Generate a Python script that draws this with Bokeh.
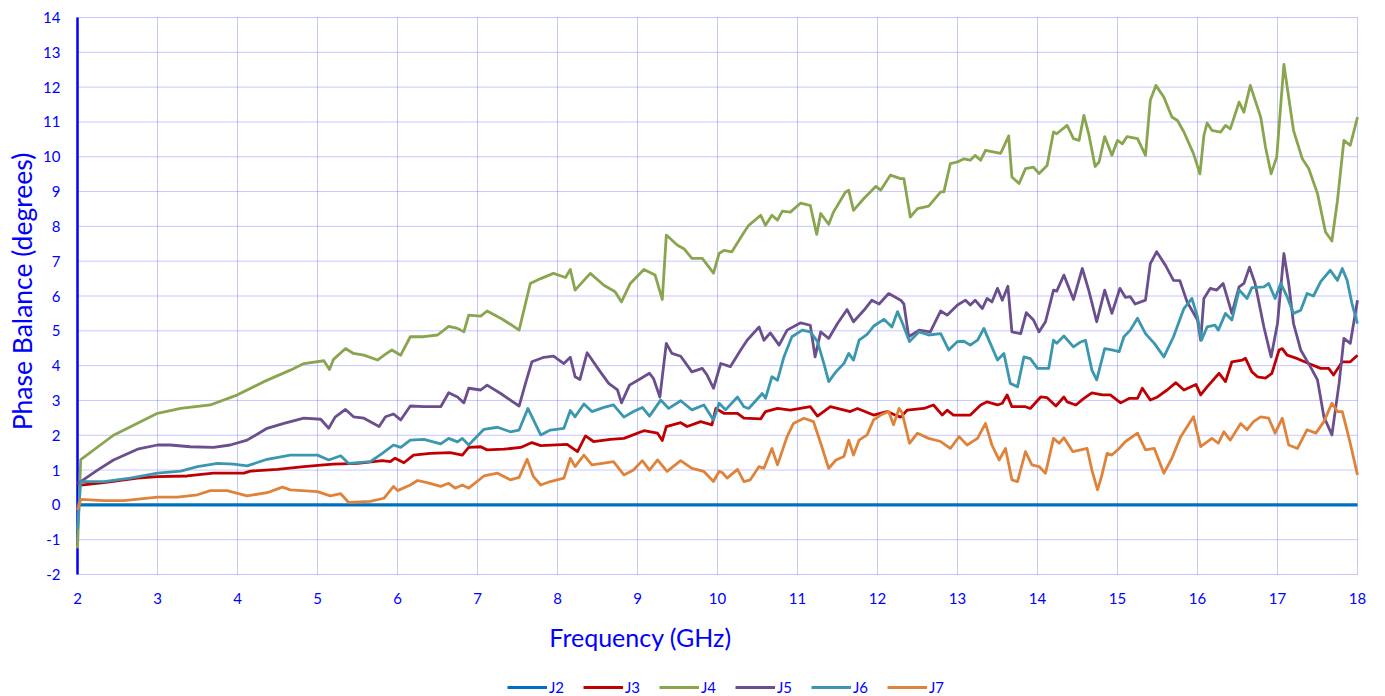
import math
from bokeh.plotting import figure
from bokeh.models import Legend, LegendItem, Label, ColumnDataSource
from bokeh.core.properties import value
from bokeh.embed import file_html
from bokeh.resources import INLINE

# ---------------- data ----------------
J2 = [(2.0, 0.0), (6.0, 0.0), (10.0, 0.0), (14.0, 0.0), (18.0, 0.0)]

J3 = [(2.0,0.55),(2.04,0.57),(2.33,0.64),(2.75,0.77),(3.0,0.81),(3.37,0.83),(3.7,0.91),(4.08,0.91),(4.16,0.97),(4.5,1.02),(4.83,1.1),(5.08,1.15),(5.2,1.17),(5.5,1.19),(5.81,1.27),(5.91,1.24),(5.97,1.34),(6.08,1.21),(6.2,1.43),(6.41,1.48),(6.66,1.5),(6.81,1.43),(6.89,1.65),(7.04,1.67),(7.12,1.58),(7.33,1.6),(7.54,1.65),(7.68,1.79),(7.79,1.7),(8.12,1.74),(8.25,1.53),(8.35,1.98),(8.45,1.82),(8.66,1.88),(8.83,1.91),(9.08,2.13),(9.25,2.06),(9.31,1.85),(9.36,2.25),(9.54,2.36),(9.62,2.25),(9.79,2.39),(9.93,2.3),(9.98,2.77),(10.08,2.63),(10.25,2.63),(10.33,2.49),(10.54,2.47),(10.6,2.68),(10.75,2.77),(10.91,2.72),(11.16,2.82),(11.25,2.55),(11.41,2.82),(11.66,2.68),(11.75,2.77),(11.95,2.58),(12.12,2.68),(12.22,2.58),(12.29,2.52),(12.37,2.72),(12.58,2.77),(12.7,2.87),(12.81,2.58),(12.87,2.72),(12.95,2.58),(13.16,2.58),(13.29,2.87),(13.37,2.96),(13.5,2.87),(13.56,2.92),(13.62,3.16),(13.68,2.82),(13.85,2.82),(13.91,2.77),(14.04,3.1),(14.12,3.08),(14.23,2.84),(14.33,3.1),(14.37,2.96),(14.48,2.87),(14.58,3.06),(14.68,3.22),(14.81,3.16),(14.91,3.16),(15.04,2.93),(15.15,3.06),(15.25,3.06),(15.31,3.35),(15.41,3.01),(15.5,3.1),(15.62,3.3),(15.73,3.51),(15.83,3.3),(15.98,3.46),(16.04,3.16),(16.12,3.39),(16.27,3.78),(16.35,3.54),(16.43,4.11),(16.56,4.16),(16.6,4.21),(16.68,3.82),(16.75,3.68),(16.85,3.64),(16.93,3.78),(17.02,4.45),(17.06,4.49),(17.12,4.3),(17.25,4.2),(17.39,4.06),(17.54,3.92),(17.64,3.92),(17.7,3.73),(17.81,4.11),(17.91,4.11),(18.0,4.3)]

J4 = [(2.0,-1.25),(2.04,1.3),(2.45,2.0),(3.0,2.63),(3.29,2.77),(3.66,2.87),(4.0,3.16),(4.33,3.54),(4.66,3.87),(4.83,4.06),(5.08,4.14),(5.15,3.89),(5.2,4.18),(5.35,4.49),(5.45,4.35),(5.58,4.3),(5.75,4.16),(5.85,4.33),(5.93,4.45),(6.04,4.3),(6.16,4.83),(6.33,4.83),(6.5,4.88),(6.64,5.13),(6.75,5.07),(6.83,4.97),(6.89,5.45),(7.04,5.42),(7.12,5.57),(7.29,5.36),(7.41,5.19),(7.52,5.02),(7.66,6.36),(7.79,6.5),(7.95,6.65),(8.1,6.53),(8.16,6.76),(8.22,6.17),(8.41,6.65),(8.58,6.31),(8.72,6.12),(8.8,5.83),(8.91,6.36),(9.08,6.76),(9.22,6.6),(9.31,5.9),(9.36,7.75),(9.5,7.46),(9.58,7.36),(9.68,7.08),(9.81,7.08),(9.95,6.66),(10.02,7.22),(10.08,7.31),(10.18,7.27),(10.31,7.75),(10.39,8.03),(10.54,8.32),(10.6,8.03),(10.68,8.32),(10.75,8.18),(10.81,8.44),(10.91,8.41),(11.04,8.67),(11.16,8.6),(11.24,7.77),(11.29,8.37),(11.39,8.06),(11.45,8.41),(11.6,8.99),(11.64,9.04),(11.7,8.46),(11.83,8.8),(11.98,9.15),(12.04,9.04),(12.16,9.47),(12.29,9.37),(12.33,9.37),(12.41,8.27),(12.5,8.51),(12.64,8.58),(12.79,8.99),(12.83,8.99),(12.91,9.8),(13.0,9.85),(13.08,9.94),(13.16,9.9),(13.22,10.04),(13.29,9.9),(13.35,10.18),(13.54,10.1),(13.64,10.6),(13.68,9.42),(13.77,9.23),(13.85,9.66),(13.95,9.7),(14.02,9.52),(14.12,9.75),(14.2,10.71),(14.24,10.66),(14.37,10.9),(14.45,10.52),(14.52,10.47),(14.58,11.19),(14.64,10.66),(14.72,9.72),(14.77,9.85),(14.84,10.58),(14.93,10.04),(15.0,10.47),(15.06,10.37),(15.12,10.58),(15.25,10.52),(15.35,10.04),(15.41,11.62),(15.48,12.05),(15.58,11.71),(15.68,11.14),(15.75,11.04),(15.83,10.71),(15.95,10.09),(16.03,9.51),(16.08,10.61),(16.12,10.97),(16.18,10.76),(16.29,10.71),(16.35,10.9),(16.41,10.8),(16.52,11.57),(16.58,11.28),(16.66,12.05),(16.79,11.14),(16.85,10.28),(16.92,9.51),(16.99,9.99),(17.08,12.65),(17.2,10.76),(17.31,9.94),(17.39,9.66),(17.5,8.94),(17.6,7.84),(17.68,7.58),(17.75,8.75),(17.83,10.47),(17.91,10.33),(18.0,11.14)]

J5 = [(2.0,0.62),(2.04,0.67),(2.25,1.0),(2.45,1.29),(2.75,1.6),(3.0,1.72),(3.16,1.72),(3.41,1.67),(3.7,1.65),(3.91,1.72),(4.12,1.86),(4.37,2.2),(4.58,2.34),(4.83,2.49),(5.04,2.46),(5.14,2.2),(5.22,2.52),(5.35,2.74),(5.45,2.53),(5.58,2.49),(5.77,2.25),(5.85,2.53),(5.95,2.61),(6.04,2.44),(6.16,2.84),(6.33,2.82),(6.54,2.82),(6.64,3.22),(6.75,3.1),(6.83,2.93),(6.89,3.35),(7.04,3.3),(7.12,3.44),(7.29,3.2),(7.41,3.01),(7.52,2.84),(7.6,3.49),(7.68,4.11),(7.83,4.24),(7.95,4.27),(8.08,4.06),(8.16,4.24),(8.22,3.68),(8.28,3.6),(8.37,4.37),(8.52,3.87),(8.64,3.49),(8.75,3.3),(8.8,2.93),(8.9,3.44),(9.02,3.6),(9.15,3.78),(9.2,3.63),(9.28,3.1),(9.36,4.64),(9.43,4.35),(9.54,4.27),(9.68,3.82),(9.81,3.92),(9.87,3.73),(9.95,3.35),(10.04,4.06),(10.16,3.97),(10.29,4.45),(10.37,4.73),(10.52,5.11),(10.58,4.73),(10.66,4.94),(10.77,4.59),(10.87,5.02),(11.04,5.23),(11.16,5.16),(11.22,4.25),(11.29,4.97),(11.39,4.78),(11.5,5.21),(11.62,5.61),(11.7,5.26),(11.83,5.59),(11.93,5.88),(12.02,5.77),(12.14,6.07),(12.29,5.88),(12.33,5.77),(12.39,4.83),(12.52,5.02),(12.66,4.97),(12.79,5.57),(12.87,5.45),(13.0,5.74),(13.1,5.88),(13.16,5.74),(13.22,5.88),(13.31,5.64),(13.37,5.93),(13.43,5.83),(13.5,6.22),(13.56,5.88),(13.63,6.28),(13.68,4.97),(13.79,4.92),(13.86,5.52),(13.95,5.31),(14.02,4.97),(14.1,5.26),(14.2,6.17),(14.24,6.14),(14.33,6.6),(14.45,5.9),(14.56,6.79),(14.64,6.17),(14.74,5.26),(14.84,6.17),(14.93,5.5),(15.03,6.22),(15.1,5.96),(15.16,5.98),(15.22,5.77),(15.35,5.88),(15.41,6.93),(15.49,7.27),(15.6,6.88),(15.7,6.45),(15.78,6.44),(15.87,5.83),(16.0,5.31),(16.04,4.73),(16.08,5.93),(16.16,6.22),(16.24,6.17),(16.32,6.36),(16.43,5.5),(16.52,6.26),(16.58,6.36),(16.65,6.83),(16.72,6.36),(16.83,5.11),(16.92,4.25),(17.0,5.21),(17.08,7.22),(17.14,6.36),(17.2,5.21),(17.29,4.45),(17.41,3.97),(17.5,3.59),(17.58,2.53),(17.68,2.01),(17.77,3.49),(17.83,4.78),(17.91,4.64),(18.0,5.88)]

J6 = [(2.0,-0.7),(2.04,0.67),(2.33,0.67),(2.66,0.77),(3.0,0.91),(3.29,0.97),(3.5,1.1),(3.75,1.19),(3.95,1.17),(4.12,1.12),(4.37,1.31),(4.66,1.43),(5.0,1.43),(5.14,1.29),(5.29,1.41),(5.39,1.19),(5.66,1.24),(5.81,1.48),(5.95,1.72),(6.04,1.65),(6.16,1.86),(6.33,1.88),(6.54,1.75),(6.64,1.91),(6.75,1.81),(6.81,1.91),(6.89,1.72),(7.08,2.17),(7.25,2.23),(7.41,2.1),(7.52,2.15),(7.63,2.77),(7.79,2.01),(7.91,2.15),(8.08,2.2),(8.16,2.71),(8.22,2.53),(8.33,2.9),(8.43,2.68),(8.58,2.8),(8.7,2.87),(8.83,2.52),(8.95,2.68),(9.06,2.8),(9.15,2.55),(9.29,3.01),(9.39,2.77),(9.54,2.99),(9.68,2.73),(9.83,2.87),(9.95,2.44),(10.02,2.92),(10.1,2.73),(10.25,3.1),(10.33,2.82),(10.39,2.77),(10.56,3.2),(10.6,3.06),(10.68,3.68),(10.75,3.58),(10.83,4.25),(10.93,4.83),(11.06,5.02),(11.16,4.97),(11.25,4.69),(11.33,4.06),(11.39,3.54),(11.48,3.82),(11.58,4.06),(11.64,4.35),(11.7,4.16),(11.77,4.73),(11.87,4.9),(11.95,5.13),(12.08,5.33),(12.18,5.11),(12.25,5.55),(12.31,5.23),(12.4,4.69),(12.52,4.97),(12.64,4.88),(12.79,4.92),(12.89,4.45),(13.0,4.69),(13.08,4.7),(13.16,4.59),(13.25,4.73),(13.33,5.07),(13.41,4.64),(13.5,4.16),(13.58,4.35),(13.66,3.49),(13.75,3.39),(13.83,4.25),(13.91,4.2),(14.0,3.92),(14.14,3.92),(14.2,4.73),(14.24,4.64),(14.33,4.85),(14.45,4.54),(14.54,4.68),(14.6,4.73),(14.68,3.87),(14.74,3.59),(14.84,4.49),(14.93,4.45),(15.02,4.4),(15.08,4.83),(15.16,5.02),(15.25,5.36),(15.35,4.92),(15.46,4.64),(15.58,4.25),(15.7,4.83),(15.83,5.64),(15.93,5.93),(16.0,5.4),(16.05,4.73),(16.12,5.11),(16.22,5.16),(16.26,5.02),(16.35,5.5),(16.43,5.31),(16.52,6.17),(16.62,5.93),(16.68,6.24),(16.83,6.26),(16.89,6.36),(16.97,5.93),(17.04,6.36),(17.12,5.98),(17.2,5.5),(17.29,5.59),(17.37,6.07),(17.45,6.0),(17.54,6.41),(17.66,6.74),(17.75,6.45),(17.81,6.79),(17.87,6.45),(17.93,5.79),(18.0,5.21)]

J7 = [(2.0,-0.15),(2.04,0.16),(2.33,0.12),(2.58,0.12),(3.0,0.22),(3.25,0.22),(3.5,0.29),(3.66,0.41),(3.87,0.41),(4.12,0.26),(4.37,0.35),(4.56,0.51),(4.66,0.43),(5.0,0.38),(5.16,0.26),(5.29,0.32),(5.39,0.07),(5.66,0.1),(5.83,0.19),(5.95,0.53),(6.0,0.41),(6.16,0.57),(6.25,0.7),(6.37,0.64),(6.54,0.53),(6.64,0.62),(6.72,0.48),(6.81,0.57),(6.89,0.48),(7.08,0.83),(7.25,0.91),(7.41,0.72),(7.52,0.79),(7.62,1.31),(7.7,0.81),(7.79,0.57),(7.91,0.67),(8.08,0.77),(8.16,1.34),(8.22,1.1),(8.33,1.43),(8.43,1.15),(8.58,1.2),(8.7,1.24),(8.83,0.86),(8.95,1.0),(9.06,1.27),(9.15,1.0),(9.25,1.29),(9.37,0.96),(9.54,1.27),(9.68,1.05),(9.83,0.96),(9.95,0.67),(10.02,0.96),(10.06,0.93),(10.12,0.77),(10.25,1.02),(10.33,0.67),(10.41,0.72),(10.52,1.1),(10.58,1.05),(10.68,1.62),(10.75,1.15),(10.87,1.96),(10.95,2.34),(11.08,2.49),(11.2,2.39),(11.29,1.77),(11.39,1.05),(11.48,1.29),(11.58,1.39),(11.64,1.86),(11.7,1.43),(11.77,1.86),(11.87,2.01),(11.95,2.44),(12.04,2.58),(12.14,2.68),(12.2,2.3),(12.27,2.77),(12.31,2.63),(12.4,1.77),(12.5,2.06),(12.64,1.91),(12.79,1.82),(12.91,1.62),(13.02,1.96),(13.12,1.72),(13.25,1.91),(13.35,2.34),(13.43,1.72),(13.52,1.29),(13.6,1.62),(13.68,0.72),(13.75,0.67),(13.85,1.53),(13.93,1.15),(14.02,1.1),(14.1,0.91),(14.2,1.91),(14.27,1.77),(14.33,1.93),(14.44,1.53),(14.54,1.58),(14.62,1.62),(14.68,1.0),(14.75,0.43),(14.8,0.81),(14.87,1.48),(14.93,1.43),(15.02,1.62),(15.1,1.82),(15.25,2.06),(15.35,1.58),(15.46,1.62),(15.58,0.91),(15.68,1.34),(15.79,1.96),(15.95,2.53),(16.04,1.67),(16.18,1.91),(16.26,1.77),(16.33,2.1),(16.41,1.86),(16.54,2.34),(16.62,2.16),(16.7,2.39),(16.79,2.53),(16.89,2.49),(16.97,2.06),(17.06,2.49),(17.14,1.72),(17.25,1.62),(17.37,2.16),(17.48,2.06),(17.58,2.39),(17.68,2.92),(17.75,2.68),(17.81,2.68),(17.9,1.86),(18.0,0.86)]

SERIES_NAMES = ["J2", "J3", "J4", "J5", "J6", "J7"]
X_TICKS = list(range(2, 19))
Y_TICKS = list(range(-2, 15))
X_TITLE = "Frequency (GHz)"
Y_TITLE = "Phase Balance (degrees)"

# ---------------- layout / styling ----------------
COLORS = ["#0070C0", "#C00000", "#89A54E", "#6A4E8E", "#3A97AF", "#E0833A"]
WIDTHS = [3.2, 2.8, 2.8, 2.8, 2.8, 2.8]
FONT = "Lato"
TEXT_BLUE = "#0000FF"
GRID_COLOR = "#0000FF"
GRID_ALPHA = 0.22

W, H = 1385, 696
PLOT_L, PLOT_R, PLOT_T, PLOT_B = 77, 1357, 17, 574      # pixel box of the 2..18 x -2..14 area
XMIN, XMAX = X_TICKS[0], X_TICKS[-1]
YMIN, YMAX = Y_TICKS[0], Y_TICKS[-1]
PPX = (PLOT_R - PLOT_L) / (XMAX - XMIN)
PPY = (PLOT_B - PLOT_T) / (YMAX - YMIN)


def dx(px):  # pixel column -> data x
    return XMIN + (px - PLOT_L) / PPX


def dy(py):  # pixel row -> data y
    return YMIN + (PLOT_B - py) / PPY


p = figure(width=W, height=H, output_backend="svg", toolbar_location=None,
           x_range=(dx(0), dx(W)), y_range=(dy(H), dy(0)),
           x_axis_location=None, y_axis_location=None,
           min_border_left=0, min_border_right=0, min_border_top=0, min_border_bottom=0)
p.outline_line_color = None
p.background_fill_color = "white"
p.xgrid.visible = False
p.ygrid.visible = False

# grid lines limited to the plotting band
p.segment(x0=X_TICKS, y0=[YMIN] * len(X_TICKS), x1=X_TICKS, y1=[YMAX] * len(X_TICKS),
          line_color=GRID_COLOR, line_alpha=GRID_ALPHA, line_width=1)
p.segment(x0=[XMIN] * len(Y_TICKS), y0=Y_TICKS, x1=[XMAX] * len(Y_TICKS), y1=Y_TICKS,
          line_color=GRID_COLOR, line_alpha=GRID_ALPHA, line_width=1)

# value axis line at x = 2
p.segment(x0=[XMIN], y0=[YMIN], x1=[XMIN], y1=[YMAX], line_color="#0000FF", line_width=2.5)

data = [J2, J3, J4, J5, J6, J7]
renderers = []
for name, series, col, w in zip(SERIES_NAMES, data, COLORS, WIDTHS):
    xs = [a for a, b in series]
    ys = [b for a, b in series]
    r = p.line(xs, ys, line_color=col, line_width=w, line_join="round")
    renderers.append((name, r))

# y tick labels
yt_src = ColumnDataSource(dict(x=[dx(PLOT_L - 17)] * len(Y_TICKS), y=Y_TICKS,
                               t=[str(t) for t in Y_TICKS]))
p.text(x="x", y="y", text="t", source=yt_src, text_align="right",
       text_baseline="middle", text_color=TEXT_BLUE, text_font=value(FONT),
       text_font_size="15px")

# x tick labels
xt_src = ColumnDataSource(dict(x=X_TICKS, y=[dy(PLOT_B + 24)] * len(X_TICKS),
                               t=[str(t) for t in X_TICKS]))
p.text(x="x", y="y", text="t", source=xt_src, text_align="center",
       text_baseline="middle", text_color=TEXT_BLUE, text_font=value(FONT),
       text_font_size="15px")

# axis titles
p.add_layout(Label(x=dx(640), y=dy(636), text=X_TITLE, text_align="center",
                   text_baseline="middle", text_color=TEXT_BLUE,
                   text_font=FONT, text_font_size="25px"))
p.add_layout(Label(x=dx(21), y=dy(291), text=Y_TITLE, angle=math.pi / 2,
                   text_align="center", text_baseline="middle", text_color=TEXT_BLUE,
                   text_font=FONT, text_font_size="26.5px"))

legend = Legend(items=[LegendItem(label=n, renderers=[r]) for n, r in renderers],
                orientation="horizontal", location=(507, 0),
                border_line_color=None, background_fill_alpha=0,
                label_text_color=TEXT_BLUE, label_text_font=FONT,
                label_text_font_size="15px", glyph_width=40, glyph_height=16,
                label_standoff=2, spacing=14, padding=0, margin=0,
                label_height=16)
p.add_layout(legend, "center")

open("out.html", "w").write(file_html(p, INLINE))
